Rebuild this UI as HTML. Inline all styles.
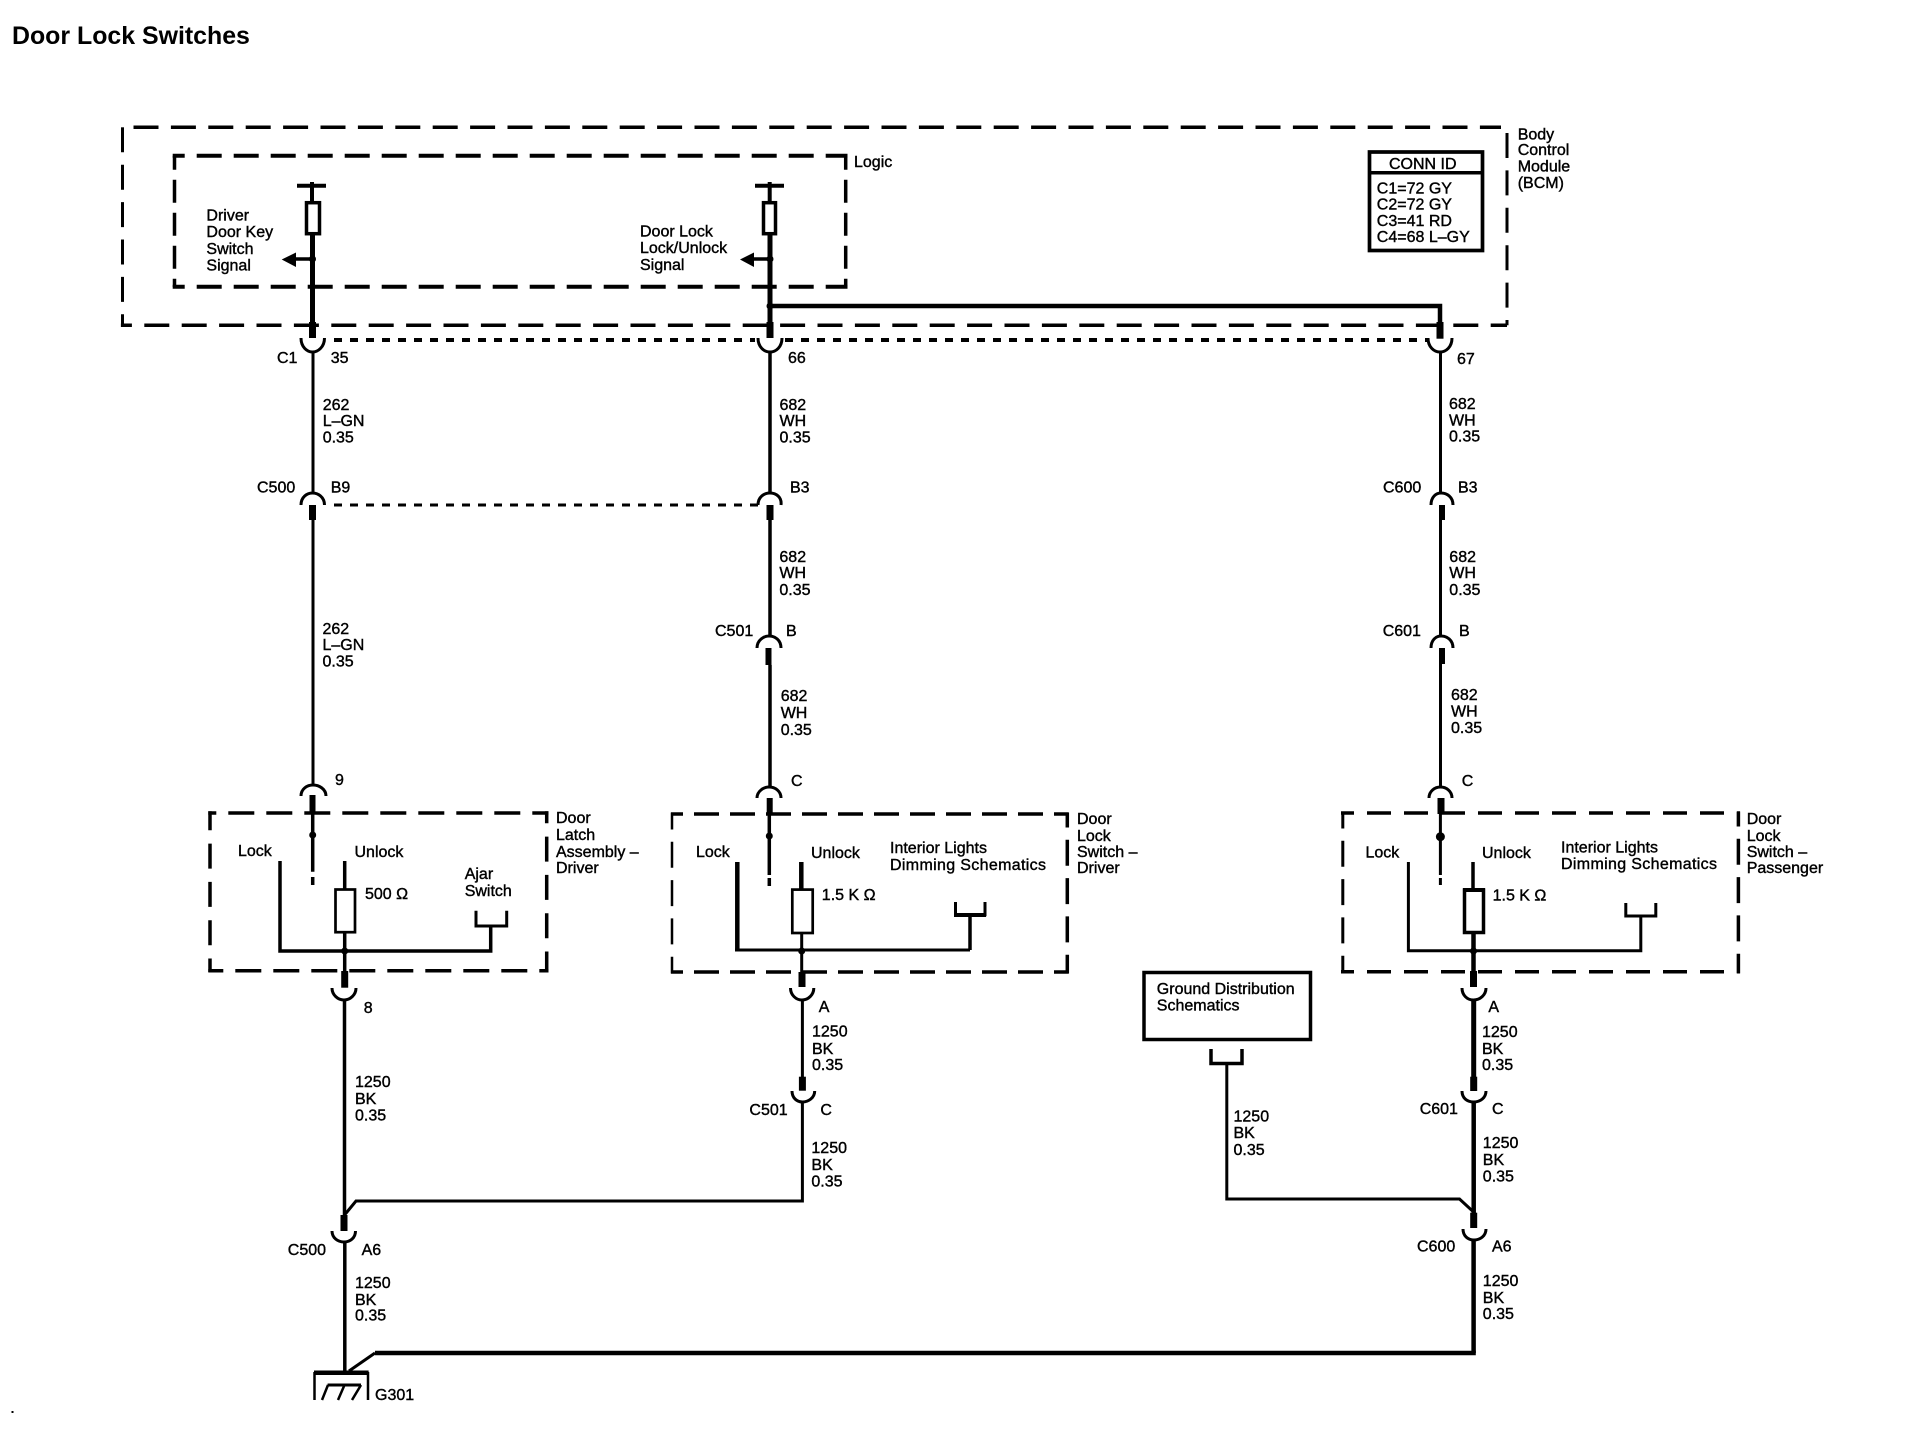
<!DOCTYPE html>
<html><head><meta charset="utf-8"><title>Door Lock Switches</title>
<style>
html,body{margin:0;padding:0;background:#fff}
svg{display:block}
text{font-family:"Liberation Sans",sans-serif;font-size:16px;fill:#000;stroke:#000;stroke-width:.4}
.w{fill:none;stroke:#000}
.d{fill:none;stroke:#000;stroke-width:3.5;stroke-dasharray:25 12.4}
.p{fill:none;stroke:#000;stroke-width:4;stroke-dasharray:8 8}
.c{fill:none;stroke:#000;stroke-width:3}
</style></head><body>
<svg width="1910" height="1440" viewBox="0 0 1910 1440" xmlns="http://www.w3.org/2000/svg">
<text x="12" y="44" style="font-size:24.9px;font-weight:bold;stroke:none">Door Lock Switches</text>

<!-- BCM box -->
<g class="d">
<path d="M133.5 127.3H1501"/>
<path d="M122.5 127.3V325.3" style="stroke-width:3"/>
<path d="M120.9 325.3H1507" style="stroke-dashoffset:14;stroke-dasharray:25 12.4"/>
<path d="M1507 133V325.3" style="stroke-width:3"/>
</g>
<!-- Logic box -->
<g class="d" style="stroke-width:4">
<path d="M174.5 155.7V287" style="stroke-width:3.5;stroke-dasharray:23 10;stroke-dashoffset:9"/>
<path d="M172.7 155.7H847.5" style="stroke-dashoffset:13;stroke-dasharray:25 12"/>
<path d="M172.7 286.7H847.5" style="stroke-dashoffset:13;stroke-dasharray:25 12"/>
<path d="M845.7 155.7V287" style="stroke-width:3.5;stroke-dasharray:23 10;stroke-dashoffset:9"/>
</g>

<!-- Logic wires -->
<g class="w" stroke-width="4">
<path d="M297 185.7H326" stroke-width="4"/><path d="M755 185.7H784" stroke-width="4"/>
<path d="M312 182V201"/><path d="M769.7 182V201"/>
</g>
<rect x="306.5" y="202.7" width="13" height="31" fill="#fff" stroke="#000" stroke-width="3.5"/>
<rect x="763.5" y="202.7" width="12" height="31" fill="#fff" stroke="#000" stroke-width="3.5"/>
<path class="w" stroke-width="5" d="M312.5 234V325"/>
<path class="w" stroke-width="7" d="M312.5 322V338"/>
<path class="w" stroke-width="5" d="M770 234V325"/>
<path class="w" stroke-width="7" d="M770 322V338"/>
<circle cx="312.5" cy="259" r="3.5"/><circle cx="770" cy="259" r="3.5"/><circle cx="770" cy="306" r="3.5"/>
<path class="w" stroke-width="3.5" d="M295 259H312"/><path class="w" stroke-width="3.5" d="M752 259H770"/>
<path d="M281.7 259.5L296 252.5V267Z"/><path d="M740 259.5L754 252.5V267Z"/>
<path class="w" stroke-width="4.5" d="M770 306H1440V325"/>
<path class="w" stroke-width="7" d="M1440 322V338.7"/>

<!-- dotted -->
<path class="p" d="M334 340H755"/><path class="p" d="M785 340H1427"/>
<path class="p" d="M334 505H759" style="stroke-width:3"/>

<!-- wire A -->
<path class="c" d="M301 338C301 347 307 352 312.5 352C318 352 324.5 347 324.5 338"/>
<path class="c" d="M313 352V493"/>
<path class="c" d="M301 505C301 497 307 493 312.5 493C318 493 324.5 497 324.5 505"/>
<path class="w" stroke-width="7" d="M312.5 505V520"/>
<path class="c" d="M313 520V786"/>
<path class="c" d="M301 796C301 789 307 785 313 785C319 785 326 789 326 796"/>
<path class="w" stroke-width="6" d="M312.5 795V814"/>
<path class="w" stroke-width="3.5" d="M312.7 813V871.7M312.7 877V885"/>
<circle cx="312.7" cy="835" r="3.5"/>

<!-- wire B -->
<path class="c" d="M758 338C758 347 764 352 770 352C776 352 782 347 782 338"/>
<path class="w" stroke-width="3.5" d="M770 352V493"/>
<path class="c" d="M758 505C758 497 764 493 770 493C776 493 782 497 781 505"/>
<path class="w" stroke-width="7" d="M770 505V520"/>
<path class="w" stroke-width="3.5" d="M770 520V636"/>
<path class="c" d="M757 648C757 640 764 636 769 636C775 636 781 640 781 648"/>
<path class="w" stroke-width="6" d="M768.5 648V665"/>
<path class="w" stroke-width="3.5" d="M770 665V787"/>
<path class="c" d="M757 798C757 791 764 787 769 787C775 787 781 791 781 798"/>
<path class="w" stroke-width="6" d="M769.7 798V814"/>
<path class="w" stroke-width="3.5" d="M769.3 813V875M769.3 878V886"/>
<circle cx="769.3" cy="836" r="3.5"/>

<!-- wire C -->
<path class="c" d="M1428 338C1428 347 1434 352 1440 352C1446 352 1452 347 1452 338"/>
<path class="w" stroke-width="3" d="M1440.5 352V493"/>
<path class="c" d="M1431 505C1431 497 1436 493 1441 493C1447 493 1453 497 1453 505"/>
<path class="w" stroke-width="6" d="M1442 505V520"/>
<path class="w" stroke-width="3" d="M1440.5 520V636"/>
<path class="c" d="M1431 648C1431 640 1436 636 1441 636C1447 636 1453 640 1453 648"/>
<path class="w" stroke-width="6" d="M1442 648V664"/>
<path class="w" stroke-width="3" d="M1440.5 664V787"/>
<path class="c" d="M1429 798C1429 791 1435 787 1440.5 787C1446 787 1452 791 1452 798"/>
<path class="w" stroke-width="7" d="M1441 798V814"/>
<path class="c" d="M1440.4 813V875M1440.4 878V885"/>
<circle cx="1440.4" cy="836.7" r="4.5"/>

<!-- Driver latch box -->
<g class="d">
<path d="M210 811.3V972" style="stroke-width:3.5;stroke-dasharray:25 13.3;stroke-dashoffset:6"/>
<path d="M208.3 813H548.5" style="stroke-dasharray:26 12;stroke-dashoffset:18"/>
<path d="M208.3 970.7H548.5" style="stroke-dasharray:26 12;stroke-dashoffset:11"/>
<path d="M546.7 811.3V972" style="stroke-width:3.5;stroke-dasharray:25 13.3;stroke-dashoffset:13"/>
</g>
<g class="w" stroke-width="3.5">
<path d="M280 861V951H490.7V926"/>
<path d="M344.7 861V888.5"/>
<path d="M344.7 933V971"/>
<path d="M476 910.7V926H506.7V910.7" stroke-width="3"/>
</g>
<rect x="335.5" y="889.5" width="19.5" height="42.7" fill="#fff" stroke="#000" stroke-width="2.7"/>
<circle cx="344.7" cy="951" r="3.5"/>
<path class="w" stroke-width="7" d="M344.7 971V987.7"/>
<path class="c" d="M332 988C332 995 338 1000 344 1000C350 1000 356 995 356 988"/>
<path class="w" stroke-width="3.5" d="M344.5 1000V1215"/>

<!-- Door lock driver box -->
<g class="d">
<path d="M672 812.5V973.5" style="stroke-width:2.5;stroke-dasharray:26 12.3;stroke-dashoffset:9"/>
<path d="M671 814H1068.5" style="stroke-dasharray:25 11;stroke-dashoffset:13"/>
<path d="M671 972H1068.5" style="stroke-dasharray:25 11;stroke-dashoffset:13"/>
<path d="M1067.3 812.5V973.5" style="stroke-dasharray:26 12.3;stroke-dashoffset:11"/>
</g>
<g class="w">
<path d="M737.3 862V950" stroke-width="4.5"/>
<path d="M735 950H970" stroke-width="3"/>
<path d="M970 950V916" stroke-width="3.5"/>
<path d="M801.3 862V889" stroke-width="4.5"/>
<path d="M801.7 933V972" stroke-width="3"/>
<path d="M955.5 902V914.7H985V902" stroke-width="3"/>
</g>
<path class="w" stroke-width="4" d="M954 915H986"/>
<rect x="792.3" y="889.6" width="20.4" height="43.4" fill="#fff" stroke="#000" stroke-width="2.7"/>
<circle cx="801.7" cy="951" r="3.5"/>
<path class="w" stroke-width="7" d="M802 972V987"/>
<path class="c" d="M790.5 988C790.5 995 796 1000 802 1000C808 1000 813.8 995 813.8 988"/>
<path class="w" stroke-width="3" d="M802.4 1000V1077"/>
<path class="w" stroke-width="7" d="M802.4 1076.7V1090.7"/>
<path class="c" d="M792 1091C792 1098 797 1102 802.5 1102C808 1102 814.7 1098 814.7 1091"/>
<path class="w" stroke-width="3" d="M802.4 1102V1201H356L344.5 1215"/>
<path class="w" stroke-width="7" d="M344 1215V1231"/>
<path class="c" d="M332 1231C332 1238 338 1242 344 1242C350 1242 355.5 1238 355.5 1231"/>
<path class="w" stroke-width="3.5" d="M344.8 1242V1372"/>

<!-- Door lock passenger box -->
<g class="d">
<path d="M1342.8 811.5V973.4" style="stroke-width:3;stroke-dasharray:26 12.3;stroke-dashoffset:9"/>
<path d="M1341 813H1740" style="stroke-dasharray:24 13;stroke-dashoffset:11"/>
<path d="M1341 971.7H1740" style="stroke-dasharray:24 13;stroke-dashoffset:11"/>
<path d="M1738.4 811.5V973.4" style="stroke-dasharray:26 12.3;stroke-dashoffset:11"/>
</g>
<g class="w" stroke-width="3">
<path d="M1408.4 862V950.7H1640.8V917"/>
<path d="M1473 862V889" stroke-width="3.5"/>
<path d="M1625.8 903V916H1655.8V903"/>
</g>
<path class="w" stroke-width="4.5" d="M1473.5 933V972"/>
<rect x="1464.5" y="890" width="19" height="42.5" fill="#fff" stroke="#000" stroke-width="3.5"/>
<path class="w" stroke-width="4" d="M1463 890H1485"/>
<circle cx="1473.5" cy="951" r="3.5"/>
<path class="w" stroke-width="7" d="M1473.5 971V987"/>
<path class="c" d="M1462 988C1462 995 1467 1000 1473.5 1000C1480 1000 1486 995 1486 988"/>
<path class="w" stroke-width="5" d="M1473.7 1000V1077"/>
<path class="w" stroke-width="7" d="M1473.7 1076.7V1091"/>
<path class="c" d="M1462 1091C1462 1098 1467 1102 1473.7 1102C1480 1102 1486 1098 1486 1091"/>
<path class="w" stroke-width="4.5" d="M1473.7 1102V1213"/>
<path class="w" stroke-width="7" d="M1473.7 1212.7V1228"/>
<path class="c" d="M1463 1229C1463 1236 1468 1240 1474 1240C1480 1240 1486 1236 1486 1229"/>
<path class="w" stroke-width="4.5" d="M1473.6 1240V1353"/>
<path class="w" stroke-width="3" d="M375 1353L349 1371"/>
<path class="w" stroke-width="4.5" d="M1475.8 1353H375"/>

<!-- Ground distribution -->
<rect x="1144" y="972.5" width="166.5" height="67" fill="none" stroke="#000" stroke-width="3.5"/>
<path class="w" stroke-width="3.5" d="M1211 1049V1063.5H1242V1049"/>
<path class="w" stroke-width="3" d="M1226.8 1064V1199H1459.5L1473.6 1212"/>

<!-- G301 -->
<path class="w" stroke-width="4.5" d="M314 1372.7H368.6"/>
<path class="w" stroke-width="2.5" d="M314.5 1372V1400M368 1372V1400"/>
<path class="w" stroke-width="3" d="M327.6 1385H361"/>
<path class="w" stroke-width="2.5" d="M328 1385L322 1400M344.5 1385L338 1400M361 1385L352 1400"/>
<rect x="11.5" y="1411" width="2" height="2"/>

<!-- CONN ID -->
<rect x="1369.5" y="152" width="113" height="98.5" fill="none" stroke="#000" stroke-width="3.7"/>
<path class="w" stroke-width="3.5" d="M1369 172.7H1484"/>

<text x="1389" y="169">CONN ID</text>
<text x="1376.8" y="193.3">C1=72 GY</text>
<text x="1376.8" y="209.3">C2=72 GY</text>
<text x="1376.8" y="226">C3=41 RD</text>
<text x="1376.8" y="242">C4=68 L–GY</text>

<text x="1517.7" y="139.3">Body</text><text x="1517.7" y="155">Control</text><text x="1517.7" y="171.7">Module</text><text x="1517.7" y="188">(BCM)</text>
<text x="854" y="167">Logic</text>
<text x="206.4" y="220.7">Driver</text><text x="206.4" y="237">Door Key</text><text x="206.4" y="254">Switch</text><text x="206.4" y="270.7">Signal</text>
<text x="640" y="236.7">Door Lock</text><text x="640" y="253">Lock/Unlock</text><text x="640" y="270">Signal</text>

<text x="277" y="363">C1</text><text x="330.7" y="363">35</text><text x="788" y="363">66</text><text x="1457" y="364">67</text>
<text x="322.7" y="410">262</text><text x="322.7" y="426">L–GN</text><text x="322.7" y="442.7">0.35</text>
<text x="779.5" y="410">682</text><text x="779.5" y="426">WH</text><text x="779.5" y="442.7">0.35</text>
<text x="1449" y="409">682</text><text x="1449" y="425.7">WH</text><text x="1449" y="441.7">0.35</text>

<text x="257" y="492.7">C500</text><text x="330.7" y="492.7">B9</text><text x="790" y="492.7">B3</text>
<text x="1383" y="492.7">C600</text><text x="1458" y="492.7">B3</text>

<text x="322.5" y="634">262</text><text x="322.5" y="650">L–GN</text><text x="322.5" y="666.7">0.35</text>
<text x="779.4" y="562">682</text><text x="779.4" y="578">WH</text><text x="779.4" y="595">0.35</text>
<text x="715" y="636">C501</text><text x="786" y="636">B</text>
<text x="780.7" y="701">682</text><text x="780.7" y="718">WH</text><text x="780.7" y="735">0.35</text>
<text x="335" y="785">9</text><text x="791" y="786">C</text>

<text x="1449.3" y="562">682</text><text x="1449.3" y="578">WH</text><text x="1449.3" y="595">0.35</text>
<text x="1382.7" y="636">C601</text><text x="1459" y="636">B</text>
<text x="1451" y="700">682</text><text x="1451" y="716.7">WH</text><text x="1451" y="733">0.35</text>
<text x="1461.7" y="786">C</text>

<text x="238" y="856">Lock</text><text x="354.5" y="857">Unlock</text>
<text x="365" y="899">500 Ω</text>
<text x="464.7" y="879">Ajar</text><text x="464.7" y="896">Switch</text>
<text x="556" y="823">Door</text><text x="556" y="840">Latch</text><text x="556" y="857">Assembly –</text><text x="556" y="873">Driver</text>
<text x="363.7" y="1013">8</text>

<text x="696" y="857">Lock</text><text x="811" y="858">Unlock</text>
<text x="821.8" y="900">1.5 K Ω</text>
<text x="890" y="853">Interior Lights</text><text x="890" y="870" textLength="156" lengthAdjust="spacing">Dimming Schematics</text>
<text x="1077" y="824">Door</text><text x="1077" y="841">Lock</text><text x="1077" y="857">Switch –</text><text x="1077" y="873">Driver</text>
<text x="818.7" y="1012">A</text>
<text x="812" y="1036.7">1250</text><text x="812" y="1054">BK</text><text x="812" y="1070">0.35</text>

<text x="1365.5" y="857.7">Lock</text><text x="1482" y="858">Unlock</text>
<text x="1492.6" y="900.7">1.5 K Ω</text>
<text x="1561" y="852.7">Interior Lights</text><text x="1561" y="869" textLength="156" lengthAdjust="spacing">Dimming Schematics</text>
<text x="1746.7" y="824">Door</text><text x="1746.7" y="841">Lock</text><text x="1746.7" y="857">Switch –</text><text x="1746.7" y="873">Passenger</text>
<text x="1488.4" y="1012">A</text>
<text x="1482" y="1037">1250</text><text x="1482" y="1054">BK</text><text x="1482" y="1070">0.35</text>

<text x="1156.8" y="994">Ground Distribution</text><text x="1156.8" y="1010.7">Schematics</text>
<text x="1233.5" y="1121.7">1250</text><text x="1233.5" y="1138">BK</text><text x="1233.5" y="1155">0.35</text>

<text x="355" y="1087">1250</text><text x="355" y="1104">BK</text><text x="355" y="1120.7">0.35</text>
<text x="749.4" y="1115">C501</text><text x="820.4" y="1115">C</text>
<text x="811.4" y="1153">1250</text><text x="811.4" y="1170">BK</text><text x="811.4" y="1186.7">0.35</text>
<text x="1419.7" y="1114">C601</text><text x="1492" y="1114">C</text>
<text x="1482.8" y="1148">1250</text><text x="1482.8" y="1165">BK</text><text x="1482.8" y="1181.7">0.35</text>

<text x="287.8" y="1255">C500</text><text x="361.6" y="1255">A6</text>
<text x="1417" y="1251.7">C600</text><text x="1492" y="1251.7">A6</text>
<text x="355" y="1288">1250</text><text x="355" y="1305">BK</text><text x="355" y="1320.7">0.35</text>
<text x="1482.8" y="1286">1250</text><text x="1482.8" y="1303">BK</text><text x="1482.8" y="1319">0.35</text>
<text x="375" y="1400">G301</text>
</svg>
</body></html>
